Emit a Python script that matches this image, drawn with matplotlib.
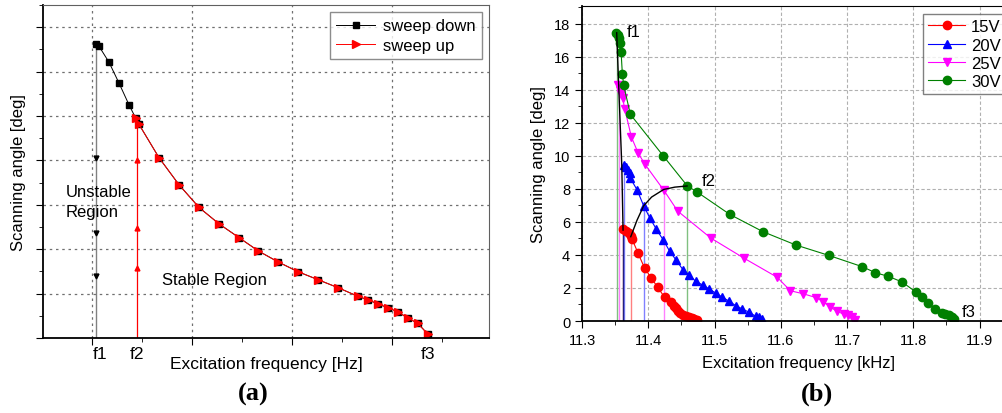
import matplotlib

matplotlib.use("Agg")
import matplotlib.pyplot as plt
from matplotlib.ticker import MultipleLocator

plt.rcParams["font.family"] = ["Liberation Sans", "DejaVu Sans"]

# ---- panel (a): schematic sweep (arbitrary units) ----
down_x = [1.04, 1.07, 1.17, 1.27, 1.37, 1.437]
down_y = [6.62, 6.57, 6.21, 5.74, 5.25, 4.95]
up_x = [1.437, 1.47, 1.67, 1.87, 2.07, 2.27, 2.47, 2.663, 2.863, 3.063, 3.263,
        3.463, 3.657, 3.757, 3.857, 3.957, 4.057, 4.157, 4.257, 4.357]
up_y = [4.95, 4.81, 4.06, 3.45, 2.94, 2.57, 2.26, 1.96, 1.71, 1.49, 1.31,
        1.13, 0.94, 0.86, 0.77, 0.68, 0.59, 0.45, 0.33, 0.09]
f1_a, f2_a, f3_a = 1.04, 1.45, 4.357
drop_arrows_y = [4.05, 2.36, 1.40]
jump_arrows_y = [4.00, 2.48, 1.57]

# ---- panel (b): measured curves [kHz, deg] ----
v15_x = [11.3619, 11.3669, 11.3704, 11.374, 11.3755, 11.3846, 11.3945, 11.4046,
         11.4141, 11.4247, 11.4348, 11.4383, 11.4419, 11.445, 11.4484, 11.4525,
         11.457, 11.462, 11.4661, 11.4696, 11.4736]
v15_y = [5.56, 5.46, 5.32, 5.12, 4.96, 4.10, 3.19, 2.60, 2.04, 1.43, 1.13, 0.93,
         0.77, 0.61, 0.48, 0.38, 0.32, 0.26, 0.20, 0.12, 0.04]
v20_x = [11.3628, 11.3664, 11.3689, 11.3719, 11.373, 11.383, 11.393, 11.402,
         11.4122, 11.4223, 11.4323, 11.4419, 11.4525, 11.462, 11.4715, 11.4821,
         11.4918, 11.5023, 11.5118, 11.522, 11.5319, 11.542, 11.5521, 11.5621,
         11.5672, 11.5722]
v20_y = [9.44, 9.30, 9.15, 8.95, 8.63, 7.94, 6.97, 6.26, 5.55, 4.92, 4.22, 3.69,
         3.09, 2.78, 2.40, 2.18, 1.94, 1.68, 1.44, 1.20, 0.93, 0.73, 0.53, 0.29,
         0.22, 0.12]
v25_x = [11.3538, 11.3569, 11.3594, 11.3614, 11.3644, 11.3745, 11.3845, 11.3946,
         11.4233, 11.4444, 11.4943, 11.5441, 11.5944, 11.6145, 11.6337, 11.6538,
         11.6639, 11.6749, 11.685, 11.695, 11.701, 11.7077, 11.7127]
v25_y = [14.25, 13.97, 13.71, 13.47, 12.84, 11.13, 10.18, 9.50, 7.92, 6.65, 5.02,
         3.81, 2.65, 1.83, 1.65, 1.41, 1.17, 0.83, 0.59, 0.41, 0.36, 0.22, 0.08]
v30_x = [11.3518, 11.3538, 11.3554, 11.3569, 11.3589, 11.3609, 11.3629, 11.373,
         11.4228, 11.459, 11.4731, 11.523, 11.5733, 11.6226, 11.6724, 11.7227,
         11.7429, 11.7625, 11.7831, 11.8033, 11.8133, 11.8229, 11.833, 11.843,
         11.848, 11.8531, 11.8581, 11.8621]
v30_y = [17.44, 17.30, 17.14, 16.83, 16.29, 14.92, 14.25, 12.5, 9.98, 8.17, 7.82,
         6.45, 5.40, 4.60, 3.97, 3.29, 2.92, 2.70, 2.36, 1.77, 1.43, 1.07, 0.73,
         0.50, 0.42, 0.34, 0.24, 0.10]
# jump-down (f1) and jump-up (f2) frequencies and heights per voltage
f1_b = [11.3619, 11.3628, 11.3553, 11.3523]
f1_h = [5.56, 9.44, 14.25, 17.44]
f2_b = [11.3735, 11.393, 11.4233, 11.4585]
f2_h = [5.10, 6.97, 7.92, 8.17]
f1_locus_x = [11.3523, 11.3553, 11.3600, 11.3619]
f1_locus_y = [17.44, 14.25, 9.40, 5.50]
f2_locus_x = [11.3735, 11.383, 11.393, 11.405, 11.4233, 11.44, 11.4585]
f2_locus_y = [5.10, 6.10, 6.97, 7.50, 7.96, 8.10, 8.17]

fig = plt.figure(figsize=(10.03, 4.14), dpi=100)

# ================= (a) =================
ax = fig.add_axes([0.0429, 0.1812, 0.4447, 0.8043])
ax.set_xlim(0.51, 4.97)
ax.set_ylim(0, 7.5)
ax.vlines(f1_a, 0, down_y[0], color="#808080", lw=1)
ax.plot([f1_a] * 3, drop_arrows_y, "v", color="black", ms=3.5, ls="none")
ax.vlines(f2_a, 0, up_y[1], color="red", lw=0.9)
ax.plot([f2_a] * 3, jump_arrows_y, "^", color="red", ms=3.5, ls="none")
ax.plot(down_x + up_x[1:], down_y + up_y[1:], "s-", color="black", lw=0.7,
        ms=5, label="sweep down")
ax.plot(up_x, up_y, ">-", color="red", lw=0.7, ms=5.5, mec="red",
        label="sweep up")
ax.xaxis.set_major_locator(MultipleLocator(1))
ax.xaxis.set_minor_locator(MultipleLocator(0.5))
ax.yaxis.set_major_locator(MultipleLocator(1))
ax.yaxis.set_minor_locator(MultipleLocator(0.5))
ax.tick_params(which="both", direction="out", labelbottom=False, labelleft=False)
ax.tick_params(which="major", length=5)
ax.tick_params(which="minor", length=3)
ax.grid(True, which="major", ls=(0, (2, 3)), color="#707070", lw=0.9)
for s in ["left", "bottom"]:
    ax.spines[s].set_linewidth(1.3)
for s in ["top", "right"]:
    ax.spines[s].set_color("#606060")
ax.text(0.74, 3.30, "Unstable", fontsize=12, va="center")
ax.text(0.74, 2.86, "Region", fontsize=12, va="center")
ax.text(1.70, 1.31, "Stable Region", fontsize=12, va="center")
for xx, lab in [(1.08, "f1"), (1.45, "f2"), (4.36, "f3")]:
    ax.annotate(lab, (xx, 0), xytext=(0, -6), textcoords="offset points",
                ha="center", va="top", fontsize=12.5, annotation_clip=False)
ax.set_xlabel("Excitation frequency [Hz]", fontsize=12.5, labelpad=8)
ax.set_ylabel("Scanning angle [deg]", fontsize=12, labelpad=7)
leg = ax.legend(loc="upper right", fontsize=12, frameon=True, fancybox=False,
                edgecolor="#707070", handlelength=2.3, handletextpad=0.5,
                labelspacing=0.25, borderaxespad=0.4)
leg.get_frame().set_linewidth(1)
fig.text(253 / 1003, 1 - 394 / 414, "(a)", fontsize=19, fontweight="bold",
         family="Liberation Serif", ha="center", va="center")

# ================= (b) =================
bx = fig.add_axes([0.5803, 0.2222, 0.4307, 0.7609])
bx.set_xlim(11.3, 11.952)
bx.set_ylim(0, 19.06)
colors = ["red", "blue", "magenta", "green"]
light = ["#ff8080", "#8080ff", "#ff80ff", "#80c080"]
for xf, hf, c in zip(f1_b, f1_h, light):
    bx.vlines(xf, 0, hf, color=c, lw=1.0)
for xf, hf, c in zip(f2_b, f2_h, light):
    bx.vlines(xf, 0, hf, color=c, lw=1.0)
bx.vlines(f1_b[0], 0, f1_h[0], color="#202080", lw=1.0)
bx.plot(v15_x, v15_y, "o-", color="red", lw=0.8, ms=6, label="15V")
bx.plot(v20_x, v20_y, "^-", color="blue", lw=0.8, ms=6, label="20V")
bx.plot(v25_x, v25_y, "v-", color="magenta", lw=0.8, ms=6, label="25V")
bx.plot(v30_x, v30_y, "o-", color="green", lw=0.8, ms=6, label="30V")
bx.plot(f1_locus_x, f1_locus_y, "-", color="black", lw=1.0)
bx.plot(f2_locus_x, f2_locus_y, "-", color="black", lw=1.0)
bx.text(11.367, 17.5, "f1", fontsize=12, va="center")
bx.text(11.480, 8.53, "f2", fontsize=12, va="center")
bx.text(11.873, 0.60, "f3", fontsize=12, va="center")
bx.xaxis.set_major_locator(MultipleLocator(0.1))
bx.xaxis.set_minor_locator(MultipleLocator(0.05))
bx.yaxis.set_major_locator(MultipleLocator(2))
bx.yaxis.set_minor_locator(MultipleLocator(1))
bx.tick_params(which="both", direction="out", labelsize=10.5)
bx.tick_params(which="major", length=5)
bx.tick_params(which="minor", length=3)
bx.grid(True, which="major", ls=(0, (3, 2)), color="#b0b0b0", lw=0.8)
for s in ["left", "bottom"]:
    bx.spines[s].set_linewidth(1.3)
bx.set_xlabel("Excitation frequency [kHz]", fontsize=12, labelpad=6)
bx.set_ylabel("Scanning angle [deg]", fontsize=12, labelpad=6)
leg = bx.legend(loc="upper right", fontsize=12, frameon=True, fancybox=False,
                edgecolor="#606060", handlelength=2.2, handletextpad=0.35,
                borderaxespad=0.5, labelspacing=0.2, borderpad=0.3)
leg.get_frame().set_linewidth(1)
fig.text(817 / 1003, 1 - 394 / 414, "(b)", fontsize=19, fontweight="bold",
         family="Liberation Serif", ha="center", va="center")

fig.savefig("out.png", dpi=100)
